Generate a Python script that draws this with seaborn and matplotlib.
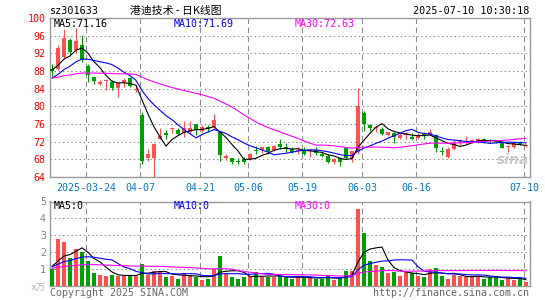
import numpy as np
import pandas as pd
import seaborn as sns
import matplotlib.pyplot as plt

# ============================================
# DATA
# ============================================

date_labels = ['2025-03-24', '04-07', '04-21', '05-06', '05-19', '06-03', '06-16', '07-10']
date_pos = [6, 15, 25, 33, 42, 52, 61, 79]

open_ = [88.5, 88.4, 91.2, 95.0, 92.7, 93.9, 89.2, 86.6, 85.0, 85.7,
         85.4, 84.1, 85.2, 86.5, 83.6, 78.0, 68.2, 68.3, 72.7, 74.0,
         74.8, 74.6, 73.9, 74.1, 75.9, 74.5, 75.4, 75.4, 74.1, 68.4,
         68.2, 67.7, 68.0, 68.0, 70.0, 70.1, 70.7, 70.1, 71.4, 70.9,
         70.3, 69.9, 70.0, 69.8, 70.2, 69.3, 68.8, 67.4, 68.2, 70.6,
         68.3, 69.7, 78.4, 75.7, 75.0, 74.8, 73.6, 74.0, 72.9, 73.6,
         73.1, 72.9, 73.7, 73.6, 73.5, 70.0, 68.6, 70.4, 71.9, 71.8,
         71.8, 72.0, 72.7, 72.3, 72.1, 71.6, 70.8, 70.8, 72.0, 71.0]
high = [89.5, 93.9, 97.5, 95.5, 97.7, 96.2, 89.5, 86.7, 86.0, 86.3,
        85.9, 85.4, 86.5, 86.7, 84.5, 78.8, 70.4, 71.6, 75.0, 74.6,
        75.4, 75.0, 76.6, 76.6, 76.0, 75.7, 75.7, 78.3, 74.2, 69.3,
        68.4, 68.3, 68.5, 69.5, 71.0, 70.8, 71.0, 71.2, 72.7, 71.6,
        70.8, 70.7, 70.8, 70.3, 70.8, 69.7, 69.1, 68.2, 68.6, 70.8,
        70.0, 84.1, 78.9, 76.0, 75.6, 75.3, 74.3, 74.2, 73.9, 74.2,
        73.9, 73.9, 74.1, 74.8, 73.7, 70.8, 70.7, 72.3, 72.7, 73.3,
        72.6, 72.9, 72.9, 72.7, 72.4, 72.0, 71.2, 72.0, 72.1, 71.4]
low = [86.7, 88.2, 90.8, 91.5, 92.0, 90.1, 85.6, 85.0, 84.9, 83.7,
       83.8, 82.2, 84.4, 84.4, 83.3, 67.0, 67.6, 64.0, 72.6, 72.6,
       73.9, 73.5, 73.1, 73.8, 73.6, 74.2, 74.2, 75.2, 67.7, 67.8,
       67.0, 67.0, 66.9, 67.9, 69.3, 69.5, 69.3, 69.9, 70.3, 69.7,
       69.5, 69.3, 69.0, 68.6, 68.9, 68.6, 67.2, 67.0, 66.5, 68.0,
       67.3, 69.3, 74.5, 74.4, 74.1, 73.5, 73.3, 71.8, 72.6, 72.6,
       72.3, 72.5, 72.6, 73.4, 69.7, 68.9, 68.4, 70.1, 71.2, 71.5,
       71.6, 71.8, 71.6, 71.7, 71.8, 70.5, 69.7, 70.6, 71.2, 70.8]
close = [88.0, 93.1, 95.4, 92.2, 94.8, 90.6, 87.1, 85.8, 85.4, 86.0,
         84.1, 85.2, 86.0, 84.6, 83.9, 67.6, 69.2, 71.4, 73.3, 73.5,
         75.0, 73.7, 75.0, 75.2, 74.6, 75.4, 74.8, 77.0, 68.9, 68.7,
         67.4, 67.5, 67.4, 69.1, 69.8, 70.7, 69.7, 71.0, 70.8, 70.4,
         69.7, 70.1, 69.2, 70.2, 69.5, 68.8, 67.4, 68.0, 67.4, 68.3,
         69.8, 80.1, 76.1, 75.1, 75.3, 73.8, 74.2, 73.1, 73.5, 73.9,
         72.7, 73.5, 73.3, 74.2, 70.6, 69.6, 70.4, 72.0, 72.0, 72.1,
         72.3, 72.7, 72.1, 72.2, 72.0, 70.6, 70.9, 71.7, 71.4, 71.2]
# volume in 万手
volume = [0.99, 2.78, 2.60, 1.63, 2.18, 2.02, 1.43, 0.77, 0.63, 0.58,
          0.63, 0.58, 0.58, 0.63, 0.54, 1.29, 0.63, 0.87, 0.83, 0.50,
          0.58, 0.40, 0.77, 0.63, 0.48, 0.34, 0.40, 0.99, 1.77, 0.73,
          0.50, 0.40, 0.50, 0.54, 0.79, 0.50, 0.50, 0.50, 0.58, 0.50,
          0.40, 0.50, 0.44, 0.50, 0.40, 0.40, 0.63, 0.30, 0.44, 0.87,
          0.87, 4.56, 3.12, 1.43, 1.23, 1.09, 0.73, 0.83, 0.58, 0.83,
          0.73, 0.58, 0.50, 0.99, 1.03, 0.58, 0.40, 0.63, 0.58, 0.50,
          0.50, 0.58, 0.40, 0.50, 0.58, 0.30, 0.44, 0.30, 0.50, 0.18]

# sessions before the window, only used to warm up the moving averages
# (estimated from where the MA lines start on the chart)
prior_close = [86.5, 86.2, 86.8, 86.4, 86.0, 86.6, 86.3, 86.5, 86.2, 86.4,
               86.6, 86.3, 86.5, 86.1, 86.4, 86.7, 86.2, 86.4, 86.5, 86.3,
               84.8, 84.4, 84.6, 84.9, 84.3, 87.6, 88.4, 88.6, 88.4]
prior_volume = [1.0, 0.9, 1.0, 1.1, 0.9, 1.0, 1.0, 0.9, 1.1, 1.0,
                0.9, 1.0, 1.0, 1.0, 0.9, 1.1, 1.0, 0.9, 1.0, 1.0,
                1.1, 1.0, 1.1, 1.0, 1.1, 1.2, 1.1, 1.2, 1.2]

price_ticks = [64, 68, 72, 76, 80, 84, 88, 92, 96, 100]
vol_ticks = [1, 2, 3, 4, 5]

RED = '#ff5050'
GREEN = '#009f00'
GRID = '#8c8c8c'
BORDER = '#999999'


# ============================================
# PREP
# ============================================

def moving_averages(prior, values, windows=(5, 10, 30)):
    s = pd.Series(prior + values, dtype=float)
    n0 = len(prior)
    return [s.rolling(w, min_periods=1).mean().iloc[n0:].to_numpy() for w in windows]


idx = np.arange(len(close))
up = np.array(close) >= np.array(open_)
colors = np.where(up, RED, GREEN)

ma5, ma10, ma30 = moving_averages(prior_close, close)
vma5, vma10, vma30 = moving_averages(prior_volume, volume)

# ============================================
# PLOT
# ============================================

sns.set_style("white", {
    'axes.grid': True,
    'grid.color': GRID,
    'axes.edgecolor': BORDER,
})
plt.rcParams['font.family'] = ['DejaVu Sans Mono', 'Noto Sans CJK SC']
plt.rcParams['grid.linewidth'] = 0.75
plt.rcParams['lines.scale_dashes'] = False

W, H = 545, 300
fig = plt.figure(figsize=(W / 100, H / 100), dpi=100)
fig.patch.set_facecolor('white')


def box(l, t, r, b):
    return [l / W, 1 - b / H, (r - l) / W, (b - t) / H]


def ftext(x, y, s, **kw):
    fig.text(x / W, 1 - y / H, s, va='center', **kw)


xlim = (-1 / 3, len(close) - 1 / 3)
grid_x = [p - 1 / 3 for p in date_pos]


def style_grid(a):
    a.set_axisbelow(True)
    a.grid(True, axis='y', color=GRID, linestyle=(0, (1, 2)), linewidth=0.75)
    a.grid(True, axis='x', color=GRID, linestyle=(0, (4, 2.5)), linewidth=0.75)


ax = fig.add_axes(box(50, 18, 530, 177))
ax2 = fig.add_axes(box(50, 201.5, 530, 285.5))

for a in (ax, ax2):
    for s in a.spines.values():
        s.set_visible(True)
        s.set_color(BORDER)
        s.set_linewidth(1.0)

# candles
o = np.array(open_)
c = np.array(close)
body_bottom = np.minimum(o, c)
body_height = np.maximum(np.abs(c - o), 0.18)
ax.vlines(idx, low, high, colors=colors, linewidth=0.75, zorder=2)
ax.bar(idx, body_height, bottom=body_bottom, width=0.8, color=colors,
       linewidth=0, zorder=3)

sns.lineplot(x=idx, y=ma5, ax=ax, color='black', linewidth=0.8, zorder=4)
sns.lineplot(x=idx, y=ma10, ax=ax, color='#0000ff', linewidth=0.8, zorder=4)
sns.lineplot(x=idx, y=ma30, ax=ax, color='#ff00ff', linewidth=0.8, zorder=4)

ax.set_xlim(*xlim)
ax.set_ylim(64, 100)
ax.set_yticks(price_ticks)
ax.set_yticklabels([str(t) for t in price_ticks], color='#ff0000', fontsize=7.2)
ax.set_xticks(grid_x)
ax.set_xticklabels(date_labels, color='#0a78c8', fontsize=7.2)
ax.tick_params(axis='both', length=0)
ax.tick_params(axis='x', pad=4)
ax.tick_params(axis='y', pad=3)
ax.set_xlabel('')
ax.set_ylabel('')
style_grid(ax)

# volume
vol_df = pd.DataFrame({'idx': idx, 'volume': volume, 'up': up})
sns.barplot(data=vol_df, x='idx', y='volume', hue='up',
            palette={True: RED, False: GREEN}, native_scale=True,
            width=0.8, errorbar=None, saturation=1, legend=False,
            linewidth=0, ax=ax2, zorder=3)
sns.lineplot(x=idx, y=vma5, ax=ax2, color='black', linewidth=0.8, zorder=4)
sns.lineplot(x=idx, y=vma10, ax=ax2, color='#0000ff', linewidth=0.8, zorder=4)
sns.lineplot(x=idx, y=vma30, ax=ax2, color='#ff00ff', linewidth=0.8, zorder=4)

ax2.set_xlim(*xlim)
ax2.set_ylim(0, 5)
ax2.set_yticks(vol_ticks)
ax2.set_yticklabels([str(t) for t in vol_ticks], color='#808080', fontsize=7.2)
ax2.set_xticks(grid_x)
ax2.set_xticklabels([])
ax2.tick_params(axis='both', length=0)
ax2.tick_params(axis='y', pad=3)
ax2.set_xlabel('')
ax2.set_ylabel('')
style_grid(ax2)

# texts
ftext(50, 11, 'sz301633', fontsize=7.3, color='black')
ftext(176, 11, '港迪技术 - 日K线图', fontsize=7.8, color='black', ha='center',
      family=['Noto Sans CJK SC', 'DejaVu Sans'])
ftext(529, 11, '2025-07-10 10:30:18', fontsize=7.3, color='black', ha='right')

ftext(54, 24, 'MA5:71.16', fontsize=7.2, color='black')
ftext(174, 24, 'MA10:71.69', fontsize=7.2, color='#0000ff')
ftext(295, 24, 'MA30:72.63', fontsize=7.2, color='#ff00ff')

ftext(54, 206, 'MA5:0', fontsize=7.2, color='black')
ftext(174, 206, 'MA10:0', fontsize=7.2, color='#0000ff')
ftext(295, 206, 'MA30:0', fontsize=7.2, color='#ff00ff')

ftext(46, 287, 'x万', fontsize=6.8, color='#b0b0b0', ha='right')
ftext(50, 293, 'Copyright 2025 SINA.COM', fontsize=7.2, color='#666666')
ftext(529, 293, 'http://finance.sina.com.cn', fontsize=7.2, color='#666666', ha='right')

# sina watermark
ftext(513, 160, 'sina', fontsize=10, color='#c8c8c8', ha='center',
      family=['DejaVu Sans'], weight='bold', style='italic')

fig.savefig('out.png', dpi=100)
